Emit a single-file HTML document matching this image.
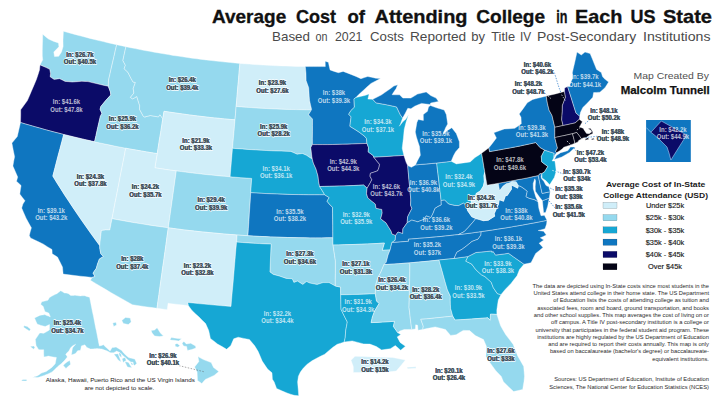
<!DOCTYPE html>
<html><head><meta charset="utf-8"><title>Average Cost of Attending College in Each US State</title>
<style>
html,body{margin:0;padding:0;background:#fff;}
body{width:720px;height:404px;overflow:hidden;position:relative;font-family:"Liberation Sans",sans-serif;}
svg{position:absolute;left:0;top:0;}
text{font-family:"Liberation Sans",sans-serif;}
</style></head><body>
<svg width="720" height="404" viewBox="0 0 720 404">
<rect width="720" height="404" fill="#ffffff"/>
<g stroke="#ffffff" stroke-opacity="0.65" stroke-width="0.6" stroke-linejoin="round">
<path d="M40.0,64.9 42.7,59.8 42.3,56.0 42.3,50.8 42.4,45.7 42.6,39.9 42.7,34.2 45.6,36.7 48.5,39.1 51.2,40.3 53.9,41.4 58.5,43.0 58.9,46.8 53.8,52.0 54.5,56.6 58.7,56.3 61.5,52.0 63.1,46.5 63.0,39.9 63.2,35.6 63.4,31.2 67.8,32.5 72.2,33.7 76.7,34.9 81.1,36.1 85.5,37.2 90.0,38.4 94.4,39.5 98.9,40.6 103.3,41.6 107.8,42.7 112.2,43.7 116.7,44.7 115.3,50.6 114.0,56.5 112.6,62.4 111.2,68.4 109.9,74.3 108.5,80.2 108.3,86.3 104.2,85.4 100.2,84.5 96.1,83.5 92.0,82.6 88.0,81.6 84.9,81.4 81.8,81.3 77.0,81.7 72.2,82.1 68.7,81.7 65.1,81.4 62.3,80.0 59.6,78.7 54.1,79.4 50.1,76.8 50.5,73.6 49.7,69.3 46.1,67.5 43.0,66.2Z" fill="#95d9ee"/>
<path d="M20.5,122.5 20.7,115.0 20.7,109.8 24.0,105.2 27.4,100.6 29.4,96.0 31.3,91.4 33.9,85.4 36.4,79.5 38.0,74.7 39.5,70.0 40.0,64.9 43.0,66.2 46.1,67.5 49.7,69.3 50.5,73.6 50.1,76.8 54.1,79.4 59.6,78.7 62.3,80.0 65.1,81.4 68.7,81.7 72.2,82.1 77.0,81.7 81.8,81.3 84.9,81.4 88.0,81.6 92.0,82.6 96.1,83.5 100.2,84.5 104.2,85.4 108.3,86.3 110.4,91.9 110.8,94.9 105.9,100.3 100.8,106.5 100.1,109.3 101.9,113.4 100.4,116.2 98.9,122.6 97.4,129.0 96.0,135.4 94.5,141.8 89.4,140.6 84.2,139.4 79.1,138.2 74.0,137.0 68.8,135.7 63.7,134.5 58.9,133.2 54.1,132.0 49.2,130.7 44.4,129.4 39.6,128.0 34.8,126.7 30.0,125.3 25.2,123.9Z" fill="#0b0b68"/>
<path d="M63.1,274.1 62.5,267.1 60.0,262.1 57.5,257.1 52.2,253.7 52.0,249.5 47.7,246.9 43.5,244.2 39.1,242.1 34.8,240.0 30.5,237.9 29.3,235.4 30.3,231.6 31.4,227.8 28.7,223.0 26.1,218.2 23.9,213.2 21.7,208.1 22.9,204.0 25.0,200.8 22.4,197.5 19.8,194.1 20.4,189.8 21.1,185.5 16.5,181.2 17.7,177.1 15.3,171.5 12.9,166.0 13.7,161.3 14.6,156.7 13.2,149.9 11.9,143.1 14.6,139.8 17.3,136.5 18.9,129.5 20.5,122.5 25.2,123.9 30.0,125.3 34.8,126.7 39.6,128.0 44.4,129.4 49.2,130.7 54.1,132.0 58.9,133.2 63.7,134.5 61.9,141.4 60.1,148.3 58.2,155.3 56.4,162.2 54.6,169.2 52.8,176.1 56.7,182.5 60.8,188.9 64.8,195.3 69.0,201.6 73.2,207.9 77.5,214.3 81.8,220.6 86.2,226.8 90.6,233.1 95.1,239.3 99.7,245.6 99.8,248.5 100.8,253.8 103.4,256.5 99.4,259.0 97.5,264.1 96.3,268.3 93.0,273.1 95.0,276.5 92.1,277.4 86.3,276.8 80.5,276.2 74.7,275.5 68.9,274.8Z" fill="#0f76c0"/>
<path d="M63.7,134.5 68.8,135.7 74.0,137.0 79.1,138.2 84.2,139.4 89.4,140.6 94.5,141.8 99.7,142.9 104.9,144.0 110.1,145.1 115.3,146.2 120.5,147.2 125.7,148.2 124.4,155.2 123.0,162.3 121.6,169.3 120.2,176.4 118.9,183.4 117.5,190.5 116.1,197.5 114.7,204.6 113.4,211.6 112.0,218.7 110.9,224.3 109.8,230.0 105.6,229.9 101.4,230.5 100.6,237.0 100.1,241.3 99.7,245.6 95.1,239.3 90.6,233.1 86.2,226.8 81.8,220.6 77.5,214.3 73.2,207.9 69.0,201.6 64.8,195.3 60.8,188.9 56.7,182.5 52.8,176.1 54.6,169.2 56.4,162.2 58.2,155.3 60.1,148.3 61.9,141.4Z" fill="#d0eef9"/>
<path d="M116.7,44.7 121.3,45.7 125.9,46.7 124.4,53.6 122.9,60.5 125.4,65.3 124.1,68.7 127.9,72.3 130.8,78.0 133.0,82.0 135.4,82.5 133.2,88.6 133.9,93.0 130.4,97.4 132.7,98.9 136.8,96.5 138.2,101.1 139.7,105.7 139.5,109.3 143.0,115.7 144.3,117.1 147.3,116.3 150.3,115.5 154.4,116.2 158.4,116.9 159.9,114.7 162.8,118.7 161.7,125.7 160.6,132.7 159.4,139.7 158.3,146.6 157.2,153.6 151.9,152.8 146.7,151.9 141.4,151.0 136.2,150.1 131.0,149.2 125.7,148.2 120.5,147.2 115.3,146.2 110.1,145.1 104.9,144.0 99.7,142.9 94.5,141.8 96.0,135.4 97.4,129.0 98.9,122.6 100.4,116.2 101.9,113.4 100.1,109.3 100.8,106.5 105.9,100.3 110.8,94.9 110.4,91.9 108.3,86.3 108.5,80.2 109.9,74.3 111.2,68.4 112.6,62.4 114.0,56.5 115.3,50.6Z" fill="#95d9ee"/>
<path d="M125.9,46.7 130.6,47.7 135.3,48.6 140.0,49.6 144.7,50.5 149.5,51.3 154.2,52.2 158.9,53.0 163.6,53.8 168.4,54.6 173.1,55.4 177.9,56.1 182.6,56.8 187.4,57.5 192.1,58.2 196.9,58.8 201.6,59.4 206.4,60.0 211.2,60.5 216.0,61.1 220.7,61.6 225.5,62.1 230.3,62.5 235.1,63.0 239.9,63.4 239.3,69.5 238.8,75.7 238.3,81.8 237.7,88.0 237.2,94.1 236.7,100.3 236.1,106.5 235.6,113.1 235.0,119.8 229.9,119.4 224.8,118.9 219.7,118.4 214.7,117.9 209.6,117.4 204.5,116.8 199.4,116.2 194.4,115.6 189.3,114.9 184.2,114.2 179.2,113.5 174.1,112.8 169.1,112.1 164.0,111.3 163.4,115.0 162.8,118.7 159.9,114.7 158.4,116.9 154.4,116.2 150.3,115.5 147.3,116.3 144.3,117.1 143.0,115.7 139.5,109.3 139.7,105.7 138.2,101.1 136.8,96.5 132.7,98.9 130.4,97.4 133.9,93.0 133.2,88.6 135.4,82.5 133.0,82.0 130.8,78.0 127.9,72.3 124.1,68.7 125.4,65.3 122.9,60.5 124.4,53.6Z" fill="#95d9ee"/>
<path d="M162.8,118.7 163.4,115.0 164.0,111.3 169.1,112.1 174.1,112.8 179.2,113.5 184.2,114.2 189.3,114.9 194.4,115.6 199.4,116.2 204.5,116.8 209.6,117.4 214.7,117.9 219.7,118.4 224.8,118.9 229.9,119.4 235.0,119.8 234.4,126.9 233.8,134.0 233.1,141.1 232.5,148.3 231.9,155.4 231.3,162.5 230.7,169.7 230.1,176.8 224.7,176.3 219.3,175.9 213.9,175.3 208.5,174.8 203.1,174.2 197.8,173.6 192.4,173.0 187.0,172.3 181.6,171.6 176.3,170.9 170.9,170.2 165.6,169.4 160.2,168.6 154.9,167.8 156.0,160.7 157.2,153.6 158.3,146.6 159.4,139.7 160.6,132.7 161.7,125.7Z" fill="#d0eef9"/>
<path d="M125.7,148.2 131.0,149.2 136.2,150.1 141.4,151.0 146.7,151.9 151.9,152.8 157.2,153.6 156.0,160.7 154.9,167.8 160.2,168.6 165.6,169.4 170.9,170.2 176.3,170.9 175.3,178.0 174.3,185.1 173.3,192.2 172.3,199.4 171.3,206.5 170.3,213.6 169.3,220.7 168.3,227.8 162.6,227.0 157.0,226.2 151.3,225.4 145.7,224.5 140.1,223.6 134.4,222.7 128.8,221.7 123.2,220.7 117.6,219.7 112.0,218.7 113.4,211.6 114.7,204.6 116.1,197.5 117.5,190.5 118.9,183.4 120.2,176.4 121.6,169.3 123.0,162.3 124.4,155.2Z" fill="#d0eef9"/>
<path d="M176.3,170.9 181.6,171.6 187.0,172.3 192.4,173.0 197.8,173.6 203.1,174.2 208.5,174.8 213.9,175.3 219.3,175.9 224.7,176.3 230.1,176.8 235.5,177.2 240.9,177.7 246.3,178.0 251.7,178.4 251.2,185.6 250.7,192.7 250.3,199.9 249.8,207.0 249.3,214.2 248.9,221.4 248.4,228.5 247.9,235.7 242.5,235.4 237.1,235.0 231.8,234.6 226.5,234.2 221.2,233.7 215.9,233.2 210.6,232.7 205.3,232.2 200.0,231.7 194.7,231.1 189.4,230.5 184.1,229.9 178.8,229.2 173.6,228.5 168.3,227.8 169.3,220.7 170.3,213.6 171.3,206.5 172.3,199.4 173.3,192.2 174.3,185.1 175.3,178.0Z" fill="#95d9ee"/>
<path d="M112.0,218.7 117.6,219.7 123.2,220.7 128.8,221.7 134.4,222.7 140.1,223.6 145.7,224.5 151.3,225.4 157.0,226.2 162.6,227.0 168.3,227.8 167.3,234.5 166.4,241.3 165.5,248.0 164.5,254.7 163.6,261.4 162.6,268.1 161.7,274.8 160.7,281.5 159.8,288.2 158.9,294.9 157.9,301.6 157.0,308.3 152.1,307.6 147.1,306.9 142.2,306.2 137.3,305.5 132.4,304.7 127.1,301.7 121.8,298.7 116.5,295.7 111.2,292.7 106.0,289.6 100.8,286.5 95.6,283.4 90.4,280.3 92.1,277.4 95.0,276.5 93.0,273.1 96.3,268.3 97.5,264.1 99.4,259.0 103.4,256.5 100.8,253.8 99.8,248.5 99.7,245.6 100.1,241.3 100.6,237.0 101.4,230.5 105.6,229.9 109.8,230.0 110.9,224.3Z" fill="#95d9ee"/>
<path d="M168.3,227.8 173.6,228.5 178.8,229.2 184.1,229.9 189.4,230.5 194.7,231.1 200.0,231.7 205.3,232.2 210.6,232.7 215.9,233.2 221.2,233.7 226.5,234.2 231.8,234.6 237.1,235.0 236.6,242.1 235.9,249.3 235.3,256.5 234.7,263.6 234.1,270.8 233.5,277.9 232.9,285.0 232.2,292.2 231.6,299.3 231.0,306.4 225.6,306.0 220.2,305.6 214.8,305.1 209.4,304.6 204.0,304.1 198.5,303.6 193.1,303.0 187.7,302.5 188.5,305.7 183.4,305.1 178.3,304.5 173.2,303.9 168.1,303.3 167.2,309.7 162.1,309.0 157.0,308.3 157.9,301.6 158.9,294.9 159.8,288.2 160.7,281.5 161.7,274.8 162.6,268.1 163.6,261.4 164.5,254.7 165.5,248.0 166.4,241.3 167.3,234.5Z" fill="#d0eef9"/>
<path d="M239.9,63.4 244.5,63.8 249.2,64.1 253.9,64.5 258.5,64.8 263.2,65.0 267.9,65.3 272.5,65.5 277.2,65.8 281.9,65.9 286.6,66.1 291.2,66.2 295.9,66.4 300.6,66.5 305.3,66.5 306.0,73.6 306.1,80.6 308.7,87.7 309.0,92.0 309.2,96.2 309.6,100.5 310.5,104.7 311.5,109.0 311.5,109.8 306.4,109.8 301.4,109.7 296.4,109.6 291.4,109.5 286.3,109.4 281.3,109.2 276.3,109.0 271.3,108.8 266.2,108.5 261.2,108.3 256.2,108.0 251.2,107.6 246.2,107.3 241.1,106.9 236.1,106.5 236.7,100.3 237.2,94.1 237.7,88.0 238.3,81.8 238.8,75.7 239.3,69.5Z" fill="#d0eef9"/>
<path d="M236.1,106.5 241.1,106.9 246.2,107.3 251.2,107.6 256.2,108.0 261.2,108.3 266.2,108.5 271.3,108.8 276.3,109.0 281.3,109.2 286.3,109.4 291.4,109.5 296.4,109.6 301.4,109.7 306.4,109.8 311.5,109.8 308.5,114.7 312.5,119.0 312.5,125.4 312.5,131.8 312.4,138.2 312.4,144.6 310.8,147.5 311.3,151.8 311.8,156.1 312.3,159.1 309.7,157.5 306.5,155.3 302.3,153.5 297.1,154.2 293.9,152.8 290.8,151.4 285.9,151.3 281.1,151.1 276.2,151.0 271.4,150.8 266.5,150.5 261.6,150.3 256.8,150.0 251.9,149.7 247.1,149.4 242.2,149.0 237.4,148.7 232.5,148.3 233.1,141.1 233.8,134.0 234.4,126.9 235.0,119.8 235.6,113.1Z" fill="#95d9ee"/>
<path d="M232.5,148.3 237.4,148.7 242.2,149.0 247.1,149.4 251.9,149.7 256.8,150.0 261.6,150.3 266.5,150.5 271.4,150.8 276.2,151.0 281.1,151.1 285.9,151.3 290.8,151.4 293.9,152.8 297.1,154.2 302.3,153.5 306.5,155.3 309.7,157.5 312.3,159.1 313.4,163.2 316.0,169.0 318.0,176.1 318.7,181.9 319.6,186.5 322.6,191.2 324.7,194.8 319.4,194.8 314.1,194.8 308.8,194.8 303.5,194.7 298.3,194.6 293.0,194.5 287.7,194.4 282.4,194.2 277.1,194.0 271.8,193.8 266.6,193.6 261.3,193.3 256.0,193.0 250.7,192.7 251.2,185.6 251.7,178.4 246.3,178.0 240.9,177.7 235.5,177.2 230.1,176.8 230.7,169.7 231.3,162.5 231.9,155.4Z" fill="#16a7d4"/>
<path d="M250.7,192.7 256.0,193.0 261.3,193.3 266.6,193.6 271.8,193.8 277.1,194.0 282.4,194.2 287.7,194.4 293.0,194.5 298.3,194.6 303.5,194.7 308.8,194.8 314.1,194.8 319.4,194.8 324.7,194.8 329.2,197.6 327.0,201.2 329.3,204.1 332.5,207.3 332.6,213.4 332.7,219.5 332.8,225.6 332.8,231.7 332.9,237.8 327.2,237.8 321.6,237.9 315.9,237.9 310.2,237.9 304.6,237.8 298.9,237.7 293.2,237.6 287.6,237.5 281.9,237.3 276.2,237.1 270.6,236.9 264.9,236.6 259.3,236.4 253.6,236.1 247.9,235.7 248.4,228.5 248.9,221.4 249.3,214.2 249.8,207.0 250.3,199.9Z" fill="#0f76c0"/>
<path d="M237.1,235.0 242.5,235.4 247.9,235.7 253.6,236.1 259.3,236.4 264.9,236.6 270.6,236.9 276.2,237.1 281.9,237.3 287.6,237.5 293.2,237.6 298.9,237.7 304.6,237.8 310.2,237.9 315.9,237.9 321.6,237.9 327.2,237.8 332.9,237.8 333.0,245.0 333.8,250.2 334.6,255.5 335.4,260.7 335.4,267.0 335.4,273.3 335.3,279.6 335.3,286.0 332.1,284.3 329.0,282.6 323.1,282.6 317.1,284.5 313.5,283.8 309.9,283.1 306.4,281.6 302.8,284.4 297.5,281.1 293.9,282.4 292.2,278.8 286.2,278.4 282.7,277.2 279.2,276.0 273.3,274.4 269.9,271.9 270.2,265.0 270.5,258.0 270.8,251.1 271.1,244.1 265.3,243.9 259.5,243.6 253.8,243.3 248.1,242.9 242.3,242.5 236.6,242.1Z" fill="#95d9ee"/>
<path d="M236.6,242.1 242.3,242.5 248.1,242.9 253.8,243.3 259.5,243.6 265.3,243.9 271.1,244.1 270.8,251.1 270.5,258.0 270.2,265.0 269.9,271.9 273.3,274.4 279.2,276.0 282.7,277.2 286.2,278.4 292.2,278.8 293.9,282.4 297.5,281.1 302.8,284.4 306.4,281.6 309.9,283.1 313.5,283.8 317.1,284.5 323.1,282.6 329.0,282.6 332.1,284.3 335.3,286.0 340.6,287.1 340.6,290.9 340.7,294.7 340.8,299.6 340.9,304.5 341.0,309.3 344.1,315.7 347.3,322.0 346.5,326.3 345.7,330.6 345.2,337.8 344.2,342.1 340.7,343.2 337.2,344.3 332.9,347.3 328.5,350.9 324.7,354.2 320.9,356.1 317.1,358.0 312.0,360.8 306.9,364.4 303.0,368.6 300.4,372.1 298.4,376.3 297.6,381.9 298.2,389.0 298.7,395.8 294.1,395.3 290.5,394.2 287.0,393.0 281.8,390.8 276.6,388.5 274.2,382.1 272.4,379.2 272.0,372.8 267.6,369.1 264.9,365.1 262.2,361.1 260.2,356.3 258.2,351.6 254.7,345.8 249.4,339.5 243.8,338.4 238.2,337.2 233.7,338.8 230.7,345.7 226.6,349.3 222.1,346.6 217.5,344.0 214.0,341.2 210.4,338.4 209.6,334.4 208.7,330.4 205.6,323.6 202.2,320.2 198.8,316.8 195.4,313.7 192.0,310.5 188.5,305.7 187.7,302.5 193.1,303.0 198.5,303.6 204.0,304.1 209.4,304.6 214.8,305.1 220.2,305.6 225.6,306.0 231.0,306.4 231.6,299.3 232.2,292.2 232.9,285.0 233.5,277.9 234.1,270.8 234.7,263.6 235.3,256.5 235.9,249.3Z" fill="#16a7d4"/>
<path d="M305.3,66.5 309.3,66.6 313.3,66.6 317.3,66.6 321.3,66.6 325.3,66.6 325.2,61.2 328.4,62.3 329.2,66.2 330.1,70.0 334.2,71.4 338.4,72.7 343.2,71.4 347.1,72.9 351.0,74.4 356.0,76.4 360.9,78.7 364.3,77.6 367.7,76.5 371.6,77.3 375.6,78.2 380.5,78.6 375.7,81.0 371.0,83.4 367.2,86.8 363.5,90.2 358.7,94.6 355.9,97.6 354.0,98.9 354.2,103.0 354.4,107.2 350.9,110.6 348.7,114.2 351.1,116.9 350.3,122.7 349.9,126.3 355.2,129.6 359.4,132.3 364.8,136.4 366.4,138.4 367.0,143.4 362.0,143.6 357.1,143.8 352.1,144.0 347.1,144.2 342.2,144.3 337.2,144.4 332.3,144.5 327.3,144.6 322.3,144.6 317.4,144.6 312.4,144.6 312.4,138.2 312.5,131.8 312.5,125.4 312.5,119.0 308.5,114.7 311.5,109.8 311.5,109.0 310.5,104.7 309.6,100.5 309.2,96.2 309.0,92.0 308.7,87.7 306.1,80.6 306.0,73.6Z" fill="#0f76c0"/>
<path d="M312.4,144.6 317.4,144.6 322.3,144.6 327.3,144.6 332.3,144.5 337.2,144.4 342.2,144.3 347.1,144.2 352.1,144.0 357.1,143.8 362.0,143.6 367.0,143.4 368.5,147.6 368.2,151.9 373.1,155.5 373.8,157.2 376.6,160.8 379.5,164.2 379.1,167.1 377.7,170.8 374.1,172.1 370.4,173.3 370.0,176.2 371.8,179.7 370.3,182.7 367.1,188.2 363.6,185.0 358.7,185.3 353.8,185.5 348.9,185.7 344.0,185.9 339.2,186.0 334.3,186.2 329.4,186.3 324.5,186.4 319.6,186.5 318.7,181.9 318.0,176.1 316.0,169.0 313.4,163.2 312.3,159.1 311.8,156.1 311.3,151.8 310.8,147.5Z" fill="#0b0b68"/>
<path d="M319.6,186.5 324.5,186.4 329.4,186.3 334.3,186.2 339.2,186.0 344.0,185.9 348.9,185.7 353.8,185.5 358.7,185.3 363.6,185.0 367.1,188.2 366.5,193.6 367.8,197.9 371.5,200.9 375.3,204.0 376.1,208.3 381.8,209.4 382.2,212.9 380.7,218.8 386.0,222.8 388.5,226.9 391.1,231.1 391.9,233.9 395.6,235.4 395.2,240.2 391.9,242.5 391.0,246.2 390.1,249.9 386.1,250.1 382.2,250.3 384.4,243.0 378.7,243.4 373.0,243.7 367.3,243.9 361.6,244.2 355.9,244.4 350.1,244.6 344.4,244.7 338.7,244.9 333.0,245.0 332.9,237.8 332.8,231.7 332.8,225.6 332.7,219.5 332.6,213.4 332.5,207.3 329.3,204.1 327.0,201.2 329.2,197.6 324.7,194.8 322.6,191.2Z" fill="#16a7d4"/>
<path d="M333.0,245.0 338.7,244.9 344.4,244.7 350.1,244.6 355.9,244.4 361.6,244.2 367.3,243.9 373.0,243.7 378.7,243.4 384.4,243.0 382.2,250.3 386.1,250.1 390.1,249.9 388.1,255.0 386.2,262.3 384.0,264.6 380.9,272.0 377.7,277.9 375.7,285.2 375.5,289.5 375.3,293.8 369.5,294.0 363.8,294.2 358.0,294.4 352.2,294.5 346.5,294.7 340.7,294.7 340.6,290.9 340.6,287.1 335.3,286.0 335.3,279.6 335.4,273.3 335.4,267.0 335.4,260.7 334.6,255.5 333.8,250.2Z" fill="#95d9ee"/>
<path d="M340.7,294.7 346.5,294.7 352.2,294.5 358.0,294.4 363.8,294.2 369.5,294.0 375.3,293.8 376.5,300.9 379.1,303.6 374.6,311.0 372.4,316.9 371.1,322.6 377.0,322.4 382.8,322.0 388.7,321.7 394.5,321.3 393.4,326.4 397.8,332.8 400.8,334.5 397.2,336.9 400.1,342.4 405.4,346.3 400.7,350.2 395.3,345.6 390.4,348.7 386.0,349.3 381.6,349.9 376.4,346.6 369.9,344.1 363.6,343.9 357.9,342.4 352.2,340.9 348.2,341.5 344.2,342.1 345.2,337.8 345.7,330.6 346.5,326.3 347.3,322.0 344.1,315.7 341.0,309.3 340.9,304.5 340.8,299.6Z" fill="#16a7d4"/>
<path d="M355.9,97.6 360.3,96.5 364.7,95.5 369.1,94.1 367.9,99.1 372.7,99.3 376.1,102.9 381.2,103.8 386.3,104.7 391.4,105.8 396.6,106.9 398.4,110.8 400.3,114.7 402.6,118.1 400.2,124.7 399.3,126.2 403.0,121.6 405.8,119.2 408.5,114.7 406.1,122.1 404.2,129.4 403.8,133.7 403.4,138.1 402.8,143.1 402.2,148.2 403.0,151.8 403.9,155.4 398.9,155.8 393.9,156.1 388.9,156.4 383.9,156.7 378.9,157.0 373.8,157.2 373.1,155.5 368.2,151.9 368.5,147.6 367.0,143.4 366.4,138.4 364.8,136.4 359.4,132.3 355.2,129.6 349.9,126.3 350.3,122.7 351.1,116.9 348.7,114.2 350.9,110.6 354.4,107.2 354.2,103.0 354.0,98.9Z" fill="#16a7d4"/>
<path d="M373.8,157.2 378.9,157.0 383.9,156.7 388.9,156.4 393.9,156.1 398.9,155.8 403.9,155.4 406.1,162.3 407.7,165.6 408.3,172.5 408.9,179.3 409.6,186.2 410.2,193.1 410.8,200.0 410.5,205.1 411.9,208.6 409.5,213.1 407.6,216.9 407.2,222.7 402.9,228.8 402.7,233.6 398.0,232.0 395.6,235.4 391.9,233.9 391.1,231.1 388.5,226.9 386.0,222.8 380.7,218.8 382.2,212.9 381.8,209.4 376.1,208.3 375.3,204.0 371.5,200.9 367.8,197.9 366.5,193.6 367.1,188.2 370.3,182.7 371.8,179.7 370.0,176.2 370.4,173.3 374.1,172.1 377.7,170.8 379.1,167.1 379.5,164.2 376.6,160.8Z" fill="#0b0b68"/>
<path d="M407.7,165.6 411.4,167.3 415.5,164.9 420.8,164.4 426.1,164.0 431.4,163.5 436.7,163.0 437.4,169.3 438.2,175.5 438.9,181.8 439.6,188.0 440.4,194.3 441.1,200.5 441.3,204.9 437.6,206.7 434.9,208.5 433.2,213.0 430.9,217.6 426.2,215.9 424.2,219.3 421.0,220.5 417.7,221.8 411.8,220.1 407.2,222.7 407.6,216.9 409.5,213.1 411.9,208.6 410.5,205.1 410.8,200.0 410.2,193.1 409.6,186.2 408.9,179.3 408.3,172.5Z" fill="#0f76c0"/>
<path d="M436.7,163.0 441.5,162.5 446.3,161.9 451.2,161.3 456.4,163.9 459.6,163.4 463.3,162.9 467.0,162.4 470.2,161.9 475.0,157.6 478.3,155.4 481.6,153.2 482.7,159.5 483.7,165.8 484.8,172.1 483.9,175.8 484.3,181.5 483.4,186.0 480.3,190.9 476.2,193.4 475.1,197.5 471.4,198.8 471.0,203.9 467.1,207.1 463.6,203.0 458.8,205.6 454.3,205.4 448.5,204.0 444.6,200.1 441.1,200.5 440.4,194.3 439.6,188.0 438.9,181.8 438.2,175.5 437.4,169.3Z" fill="#16a7d4"/>
<path d="M407.2,222.7 411.8,220.1 417.7,221.8 421.0,220.5 424.2,219.3 426.2,215.9 430.9,217.6 433.2,213.0 434.9,208.5 437.6,206.7 441.3,204.9 441.1,200.5 444.6,200.1 448.5,204.0 454.3,205.4 458.8,205.6 463.6,203.0 467.1,207.1 467.5,210.6 471.8,216.8 475.8,218.6 472.6,222.5 468.2,227.5 464.1,231.7 461.3,233.1 458.4,234.6 452.8,235.2 447.3,235.8 441.7,236.4 436.2,236.9 430.6,237.4 425.1,237.9 419.5,238.3 413.9,238.8 408.4,239.2 408.5,241.3 403.0,241.7 397.4,242.2 391.9,242.5 395.2,240.2 395.6,235.4 398.0,232.0 402.7,233.6 402.9,228.8Z" fill="#0f76c0"/>
<path d="M391.9,242.5 397.4,242.2 403.0,241.7 408.5,241.3 408.4,239.2 413.9,238.8 419.5,238.3 425.1,237.9 430.6,237.4 436.2,236.9 441.7,236.4 447.3,235.8 452.8,235.2 458.4,234.6 464.1,233.9 469.8,233.2 475.5,232.4 481.2,231.6 480.9,235.1 478.0,239.2 475.0,240.3 471.9,241.5 466.7,245.8 462.4,249.0 456.9,252.2 454.0,258.5 449.0,259.0 444.0,259.5 439.0,260.0 434.0,260.6 428.9,261.1 423.8,261.6 418.8,262.0 413.7,262.5 408.6,262.9 403.7,263.3 398.8,263.7 393.9,264.0 388.9,264.3 384.0,264.6 386.2,262.3 388.1,255.0 390.1,249.9 391.0,246.2Z" fill="#0f76c0"/>
<path d="M384.0,264.6 388.9,264.3 393.9,264.0 398.8,263.7 403.7,263.3 408.6,262.9 409.9,264.2 409.8,271.4 409.7,278.6 409.5,285.8 409.4,293.0 409.2,300.2 409.0,307.4 409.7,312.9 410.3,318.4 411.0,323.9 411.7,329.4 407.9,329.5 404.2,329.5 399.9,331.0 397.8,332.8 393.4,326.4 394.5,321.3 388.7,321.7 382.8,322.0 377.0,322.4 371.1,322.6 372.4,316.9 374.6,311.0 379.1,303.6 376.5,300.9 375.3,293.8 375.5,289.5 375.7,285.2 377.7,277.9 380.9,272.0Z" fill="#95d9ee"/>
<path d="M408.6,262.9 413.7,262.5 418.8,262.0 423.8,261.6 428.9,261.1 434.0,260.6 439.0,260.0 440.7,266.0 442.4,272.0 444.0,277.9 445.7,283.9 447.4,289.8 450.4,296.3 450.3,300.6 450.4,304.5 450.6,308.5 451.7,312.3 452.7,316.1 447.4,316.7 442.1,317.3 436.8,317.8 431.4,318.4 426.1,318.9 420.8,319.3 423.3,326.3 422.7,329.5 418.0,330.3 417.6,325.3 415.7,324.8 415.4,329.1 411.7,329.4 411.0,323.9 410.3,318.4 409.7,312.9 409.0,307.4 409.2,300.2 409.4,293.0 409.5,285.8 409.7,278.6 409.8,271.4 409.9,264.2Z" fill="#95d9ee"/>
<path d="M439.0,260.0 444.0,259.5 449.0,259.0 454.0,258.5 458.7,257.8 463.4,257.2 468.0,256.5 465.8,261.2 471.6,264.0 476.0,269.9 481.6,274.9 484.9,276.6 491.2,282.2 493.3,287.7 497.3,293.6 500.9,294.7 498.3,299.9 497.4,305.8 496.8,310.2 496.9,314.4 490.5,314.1 490.3,317.0 490.2,320.3 487.9,317.8 482.4,318.2 476.9,318.6 471.4,319.0 465.9,319.4 460.4,319.7 454.9,320.0 452.7,316.1 451.7,312.3 450.6,308.5 450.4,304.5 450.3,300.6 450.4,296.3 447.4,289.8 445.7,283.9 444.0,277.9 442.4,272.0 440.7,266.0Z" fill="#16a7d4"/>
<path d="M452.7,316.1 454.9,320.0 460.4,319.7 465.9,319.4 471.4,319.0 476.9,318.6 482.4,318.2 487.9,317.8 490.2,320.3 490.3,317.0 490.5,314.1 496.9,314.4 498.7,320.0 500.5,325.6 503.1,330.2 505.8,334.8 509.5,339.6 513.2,344.4 515.4,350.2 517.7,355.9 520.7,361.2 523.7,366.4 524.1,371.3 524.5,376.3 524.0,381.4 523.3,385.4 522.7,389.4 518.2,390.5 513.6,391.6 508.5,386.7 503.4,381.7 501.3,376.4 495.8,370.7 492.5,366.2 489.3,361.7 485.9,356.4 486.2,351.3 486.4,346.3 483.5,339.5 479.4,337.6 475.3,335.6 469.6,330.6 463.2,330.4 459.7,332.5 456.2,334.7 450.6,335.4 445.5,329.5 440.4,328.2 435.2,326.9 431.0,327.8 426.9,328.6 422.7,329.5 423.3,326.3 420.8,319.3 426.1,318.9 431.4,318.4 436.8,317.8 442.1,317.3 447.4,316.7Z" fill="#95d9ee"/>
<path d="M468.0,256.5 472.0,254.5 475.9,252.5 481.1,252.0 486.4,251.5 491.6,250.9 491.9,252.3 493.1,251.4 495.5,255.1 499.8,254.5 504.2,253.9 508.5,253.3 513.6,256.9 518.8,260.6 524.0,264.2 519.5,269.5 517.0,275.8 514.0,279.6 511.0,283.4 508.1,286.4 505.2,289.4 500.9,294.7 497.3,293.6 493.3,287.7 491.2,282.2 484.9,276.6 481.6,274.9 476.0,269.9 471.6,264.0 465.8,261.2Z" fill="#16a7d4"/>
<path d="M454.0,258.5 456.9,252.2 462.4,249.0 466.7,245.8 471.9,241.5 475.0,240.3 478.0,239.2 480.9,235.1 481.2,231.6 486.7,230.8 492.2,230.0 497.7,229.1 503.2,228.3 508.7,227.4 514.2,226.4 519.7,225.5 525.2,224.5 530.6,223.5 536.1,222.5 541.6,221.4 547.0,220.3 546.6,224.1 545.0,228.8 541.6,229.7 538.2,230.5 543.7,231.3 546.3,235.1 543.3,236.5 540.3,237.8 543.8,240.1 539.1,243.2 543.0,247.5 539.4,250.5 535.7,253.4 533.4,258.1 531.0,262.8 527.5,263.5 524.0,264.2 518.8,260.6 513.6,256.9 508.5,253.3 504.2,253.9 499.8,254.5 495.5,255.1 493.1,251.4 491.9,252.3 491.6,250.9 486.4,251.5 481.1,252.0 475.9,252.5 472.0,254.5 468.0,256.5 463.4,257.2 458.7,257.8Z" fill="#0f76c0"/>
<path d="M458.4,234.6 461.3,233.1 464.1,231.7 468.2,227.5 472.6,222.5 475.8,218.6 479.6,219.6 483.3,220.7 488.4,220.2 491.5,218.2 494.7,216.2 494.2,213.7 496.3,209.0 498.4,204.4 499.3,199.7 503.5,201.3 505.4,195.8 507.3,195.4 511.5,189.2 511.2,184.9 514.5,186.6 517.7,188.2 518.4,185.5 521.2,186.7 524.5,189.0 527.3,191.3 526.0,196.7 529.2,198.3 534.1,199.5 538.0,201.6 538.8,208.1 539.9,211.9 541.0,215.7 544.4,215.3 547.0,220.3 541.6,221.4 536.1,222.5 530.6,223.5 525.2,224.5 519.7,225.5 514.2,226.4 508.7,227.4 503.2,228.3 497.7,229.1 492.2,230.0 486.7,230.8 481.2,231.6 475.5,232.4 469.8,233.2 464.1,233.9ZM543.6,212.7 543.0,206.7 542.4,200.7 545.9,199.4 549.3,198.1 548.5,202.1 547.7,206.2 545.6,212.5Z" fill="#0f76c0"/>
<path d="M467.1,207.1 471.0,203.9 471.4,198.8 475.1,197.5 476.2,193.4 480.3,190.9 483.4,186.0 484.3,181.5 483.9,175.8 484.8,172.1 485.9,178.7 487.0,185.2 490.7,184.6 494.5,183.9 498.3,183.3 498.9,187.0 499.6,190.6 503.0,186.1 506.5,183.6 510.2,182.6 512.2,181.2 516.2,181.8 518.4,185.5 517.7,188.2 514.5,186.6 511.2,184.9 511.5,189.2 507.3,195.4 505.4,195.8 503.5,201.3 499.3,199.7 498.4,204.4 496.3,209.0 494.2,213.7 494.7,216.2 491.5,218.2 488.4,220.2 483.3,220.7 479.6,219.6 475.8,218.6 471.8,216.8 467.5,210.6Z" fill="#d0eef9"/>
<path d="M498.3,183.3 503.3,182.4 508.3,181.5 513.3,180.6 518.2,179.6 523.2,178.7 528.2,177.7 533.2,176.6 538.2,175.6 539.5,181.5 540.8,187.5 542.1,193.4 546.1,192.6 550.2,191.7 549.3,198.1 545.9,199.4 542.4,200.7 538.9,196.3 535.4,191.2 535.2,186.8 535.6,180.8 534.8,178.8 533.2,183.5 533.3,188.7 534.5,192.8 535.8,196.9 538.0,201.6 534.1,199.5 529.2,198.3 526.0,196.7 527.3,191.3 524.5,189.0 521.2,186.7 518.4,185.5 516.2,181.8 512.2,181.2 510.2,182.6 506.5,183.6 503.0,186.1 499.6,190.6 498.9,187.0Z" fill="#0f76c0"/>
<path d="M538.2,175.6 539.9,173.6 541.9,173.6 541.1,176.7 541.6,178.8 543.8,181.3 545.9,185.3 548.8,187.1 550.2,191.7 546.1,192.6 542.1,193.4 540.8,187.5 539.5,181.5Z" fill="#0f76c0"/>
<path d="M481.6,153.2 485.3,150.5 488.9,147.8 489.6,151.6 494.7,150.7 499.9,149.8 505.0,148.8 510.1,147.9 515.3,146.9 520.4,145.9 525.5,144.8 530.6,143.7 535.7,142.6 540.1,147.6 544.6,150.1 541.3,156.4 541.7,161.9 547.8,166.4 544.5,171.9 541.9,173.6 539.9,173.6 538.2,175.6 533.2,176.6 528.2,177.7 523.2,178.7 518.2,179.6 513.3,180.6 508.3,181.5 503.3,182.4 498.3,183.3 494.5,183.9 490.7,184.6 487.0,185.2 485.9,178.7 484.8,172.1 483.7,165.8 482.7,159.5Z" fill="#040416"/>
<path d="M541.9,173.6 544.5,171.9 547.8,166.4 541.7,161.9 541.3,156.4 544.6,150.1 549.4,151.7 554.2,153.2 553.9,157.7 552.1,161.0 554.9,160.9 555.6,166.0 556.2,171.2 554.3,177.5 552.0,181.1 549.7,184.7 546.0,180.8 542.0,178.0Z" fill="#16a7d4"/>
<path d="M488.9,147.8 492.7,142.9 496.4,138.0 493.8,132.7 497.3,131.5 500.8,130.2 504.3,129.0 509.5,128.7 514.8,128.3 518.1,126.0 521.3,123.7 521.0,117.2 519.2,114.0 523.3,108.4 527.3,102.8 530.1,101.1 532.8,99.4 537.3,98.3 541.7,97.2 546.2,96.1 546.8,99.7 547.4,103.3 549.1,110.2 552.0,115.4 553.4,121.3 554.8,127.3 554.8,132.4 554.8,137.6 556.1,142.8 557.5,148.0 555.6,151.4 556.7,152.6 554.7,155.3 553.9,157.7 554.2,153.2 549.4,151.7 544.6,150.1 540.1,147.6 535.7,142.6 530.6,143.7 525.5,144.8 520.4,145.9 515.3,146.9 510.1,147.9 505.0,148.8 499.9,149.8 494.7,150.7 489.6,151.6ZM554.3,159.4 558.1,158.2 561.8,157.0 565.7,154.7 569.6,152.4 572.5,149.7 575.3,147.0 570.4,147.1 568.0,150.6 564.4,151.7 560.7,152.7 556.4,155.6Z" fill="#0f76c0"/>
<path d="M546.2,96.1 550.8,95.0 555.4,93.9 559.9,92.7 564.5,91.5 565.5,97.3 562.4,105.5 562.3,111.4 562.0,115.5 561.7,119.7 563.1,125.5 558.9,126.4 554.8,127.3 553.4,121.3 552.0,115.4 549.1,110.2 547.4,103.3 546.8,99.7Z" fill="#040416"/>
<path d="M564.5,91.5 564.6,88.0 567.6,86.5 569.7,93.1 571.8,99.7 573.9,106.4 576.0,113.1 579.8,116.2 579.3,119.3 575.1,122.9 571.1,123.8 567.1,124.7 563.1,125.5 561.7,119.7 562.0,115.5 562.3,111.4 562.4,105.5 565.5,97.3Z" fill="#0b0b68"/>
<path d="M567.6,86.5 570.0,86.6 569.9,84.4 572.5,78.5 572.4,72.6 573.3,68.4 574.6,63.0 575.8,57.5 577.0,52.1 581.3,55.0 585.0,52.1 590.1,53.6 592.3,58.8 594.4,64.1 596.6,69.4 601.3,72.5 602.5,76.5 604.2,78.6 608.6,82.1 605.0,87.7 602.4,90.0 599.9,92.2 596.7,92.4 593.6,92.6 592.8,97.3 589.5,100.8 586.2,104.3 582.8,107.5 580.4,112.6 579.8,116.2 576.0,113.1 573.9,106.4 571.8,99.7 569.7,93.1Z" fill="#0f76c0"/>
<path d="M554.8,127.3 558.9,126.4 563.1,125.5 567.1,124.7 571.1,123.8 575.1,122.9 579.3,119.3 582.4,121.7 579.5,126.9 583.1,128.2 585.1,131.4 586.6,133.5 589.1,133.7 591.7,132.0 590.6,129.9 588.9,129.2 588.3,128.6 590.4,128.3 592.6,131.6 592.9,133.4 589.5,135.1 586.3,137.5 583.0,137.9 581.5,139.0 580.0,136.8 576.8,132.5 572.5,133.7 568.1,134.7 563.6,135.7 559.2,136.6 554.8,137.6 554.8,132.4ZM585.0,140.3 589.0,139.3 588.0,137.7 585.5,138.7ZM591.5,140.1 594.4,139.3 593.7,138.3 591.7,138.8Z" fill="#040416"/>
<path d="M554.8,137.6 559.2,136.6 563.6,135.7 568.1,134.7 572.5,133.7 573.6,137.8 574.7,142.0 574.4,143.5 570.0,145.2 566.9,146.2 563.8,147.2 562.1,149.1 559.4,150.9 556.7,152.6 555.6,151.4 557.5,148.0 556.1,142.8Z" fill="#040416"/>
<path d="M572.5,133.7 576.8,132.5 580.0,136.8 581.5,139.0 578.7,140.5 578.0,141.9 574.4,143.5 574.7,142.0 573.6,137.8Z" fill="#040416"/>
<path d="M402.6,118.1 400.3,114.7 398.4,110.8 396.6,106.9 391.4,105.8 386.3,104.7 381.2,103.8 376.1,102.9 372.7,99.3 377.2,97.1 381.6,94.8 384.4,92.8 387.3,90.8 390.6,88.5 393.8,86.1 397.7,84.8 396.0,88.7 393.4,92.5 392.1,94.7 395.8,94.8 399.6,94.8 402.8,98.1 406.9,98.1 410.9,98.1 414.2,96.1 417.5,94.1 421.9,93.0 426.2,91.9 430.7,95.6 436.1,98.1 438.5,101.4 434.6,102.2 430.6,103.1 430.3,104.5 425.9,104.0 421.5,103.4 418.1,104.8 414.7,106.2 410.9,108.8 407.8,108.3 405.3,113.2ZM415.5,164.9 417.2,161.2 420.4,155.2 419.9,150.9 419.5,146.6 417.9,141.7 416.4,136.9 415.3,131.9 416.1,127.2 416.9,122.5 418.2,119.5 423.4,120.4 423.3,114.6 427.5,111.3 428.5,106.9 430.4,105.5 433.8,106.8 437.3,108.0 440.8,109.0 444.2,110.0 446.4,114.7 447.0,119.3 447.7,123.9 445.6,127.8 442.8,134.6 447.5,130.4 451.8,127.7 456.3,133.5 457.9,137.7 459.4,141.8 459.4,147.6 455.7,151.7 453.6,155.6 451.2,161.3 446.3,161.9 441.5,162.5 436.7,163.0 431.4,163.5 426.1,164.0 420.8,164.4Z" fill="#0f76c0"/>
<path d="M89.6,297.2 88.6,297.0 87.6,296.7 86.6,296.4 85.6,296.1 84.6,295.7 83.7,295.8 82.7,295.8 81.8,295.8 80.9,295.9 80.0,295.9 79.0,295.8 78.1,295.7 77.2,295.6 76.2,295.4 75.3,295.3 74.4,295.3 73.5,295.4 72.6,295.4 71.7,295.4 70.7,295.4 69.8,294.7 68.9,294.0 68.0,293.4 67.1,293.3 66.2,293.1 65.3,293.0 64.4,292.9 63.7,292.5 62.9,292.0 62.2,291.6 61.5,291.2 60.7,290.7 59.9,291.4 59.0,292.1 58.1,292.7 57.2,293.4 56.3,293.9 55.4,294.3 54.4,294.8 53.5,295.2 52.5,295.8 51.5,296.3 50.5,296.9 49.5,297.4 48.7,298.9 47.8,300.3 46.8,300.6 45.8,300.8 44.8,301.0 43.8,301.3 42.8,301.5 41.7,301.7 41.2,303.0 40.7,304.3 41.5,305.0 42.4,305.8 43.3,306.6 43.8,308.3 44.4,310.0 45.0,311.7 45.9,312.0 46.9,312.3 47.9,312.7 48.8,313.0 49.6,314.9 50.3,316.9 49.4,316.5 48.5,316.1 47.5,315.8 46.6,315.4 45.7,315.0 44.8,314.6 43.8,314.8 42.7,314.9 41.7,315.1 40.7,315.2 39.7,315.4 38.7,315.9 37.6,316.4 36.6,316.9 35.6,317.4 34.5,317.9 35.2,319.4 35.8,321.0 36.5,322.6 37.2,324.1 38.2,324.5 39.2,324.8 40.2,325.2 41.2,325.5 42.2,325.7 43.2,326.0 44.2,326.2 45.2,326.5 46.3,326.0 47.4,325.5 48.4,325.0 49.5,324.6 49.5,327.2 49.4,329.9 48.2,330.7 46.9,331.5 45.9,332.1 44.8,332.7 43.8,333.3 42.8,333.2 41.7,333.1 40.7,333.0 39.7,332.9 38.3,335.1 36.8,337.3 35.3,339.5 35.6,341.5 35.8,343.6 36.1,345.6 37.0,347.0 37.9,348.4 38.9,349.8 40.1,349.8 41.3,349.8 42.5,349.7 43.7,349.7 43.7,351.9 43.7,354.0 43.8,355.5 43.9,357.0 45.4,356.7 46.8,356.4 48.2,356.1 49.4,356.3 50.6,356.6 51.8,356.8 53.1,357.0 54.2,357.2 55.3,357.3 56.4,357.5 56.0,359.6 55.6,361.7 55.2,363.8 54.1,365.0 53.0,366.2 51.8,367.4 50.4,368.4 49.0,369.4 47.6,370.4 46.2,371.5 44.6,372.0 43.0,372.6 41.5,373.1 40.1,374.0 38.8,374.9 37.5,375.8 36.2,376.2 34.9,376.5 33.6,376.9 32.3,377.2 33.7,377.3 35.1,377.3 36.5,377.4 37.9,377.5 39.5,377.0 41.1,376.4 42.7,375.9 44.3,375.4 45.8,374.8 47.4,374.2 49.0,373.5 50.5,372.7 52.1,371.9 53.4,370.7 54.8,369.4 56.1,368.1 57.4,366.9 58.6,365.8 59.9,364.8 61.2,363.8 62.4,362.6 63.7,361.3 64.9,360.1 66.1,358.5 67.4,356.9 66.5,355.5 65.7,354.2 66.8,353.1 67.8,352.0 68.9,350.9 69.8,349.3 70.6,347.7 71.9,346.6 73.1,345.5 74.4,344.9 75.6,344.2 74.6,345.5 73.5,346.7 72.5,347.9 72.1,350.2 71.8,352.6 71.4,354.9 72.7,354.5 74.1,354.1 75.4,353.6 76.5,352.2 77.6,350.8 78.6,350.6 79.6,350.5 80.5,350.3 81.0,348.1 81.4,345.9 82.5,345.6 83.6,345.2 84.7,344.8 85.8,346.1 86.8,347.5 88.1,348.0 89.3,348.6 90.5,349.1 91.9,349.0 93.2,348.9 94.5,348.8 95.8,348.7 97.2,348.6 98.3,348.7 99.5,348.8 100.7,348.9 101.9,349.0 103.2,349.5 104.6,350.1 106.0,350.6 107.3,351.1 109.0,351.9 110.6,352.7 111.6,352.7 112.7,352.7 113.7,352.7 114.6,352.2 115.6,351.7 116.5,351.1 118.1,351.8 119.7,352.4 121.4,354.1 123.2,355.8 125.3,357.6 127.4,359.4 129.1,360.8 130.9,362.2 132.7,363.8 134.6,365.4 135.7,364.4 136.8,363.4 135.8,361.2 134.8,359.0 133.3,358.7 131.7,358.3 130.2,358.0 128.7,357.6 127.0,356.2 125.4,354.7 123.9,353.3 122.8,351.9 121.8,350.6 120.4,349.7 118.9,348.8 117.5,347.9 116.1,347.0 114.8,347.3 113.4,347.5 112.1,347.6 111.1,349.3 110.1,350.9 108.7,349.7 107.3,348.5 105.9,347.2 104.5,346.0 103.9,344.7 102.8,345.0 101.7,345.4 100.5,345.7 99.4,346.0 98.8,343.4 98.3,340.8 97.8,338.2 97.3,335.7 96.8,333.1 96.3,330.5 95.7,327.9 95.2,325.4 94.7,322.8 94.2,320.2 93.7,317.6 93.2,315.1 92.6,312.5 92.1,310.0 91.6,307.4 91.1,304.9 90.6,302.3 90.1,299.8ZM113.9,354.3 115.3,354.1 116.7,353.9 118.1,353.7 118.8,355.8 119.6,357.8 120.4,359.9 121.2,362.0 119.6,361.0 118.2,360.1 117.1,358.4 116.0,356.8 115.0,355.6ZM118.9,352.4 119.9,353.0 121.0,353.7 121.3,355.6 121.7,357.6 120.5,356.7 119.3,355.8 119.1,354.1ZM122.0,358.7 123.1,358.2 124.1,357.8 125.2,357.4 125.7,358.9 126.2,360.4 125.2,361.1 124.2,361.8 123.2,362.5 122.6,360.6ZM124.7,361.4 125.9,361.8 127.2,362.1 128.5,362.5 129.6,364.2 130.7,366.0 131.9,367.8 130.4,367.5 128.9,367.3 127.4,367.0 126.5,365.2 125.6,363.3ZM130.5,362.0 131.8,362.1 133.1,362.2 133.4,364.7 132.4,364.7 131.5,364.8 131.0,363.4ZM63.2,365.4 64.6,366.9 66.0,368.4 67.2,367.3 68.3,366.3 69.5,365.3 70.6,364.3 70.2,362.4 69.9,360.5 68.7,361.1 67.4,361.7 66.4,362.5 65.4,363.3 64.3,364.3ZM30.3,346.4 31.4,347.4 32.5,348.3 33.6,349.2 35.0,347.3 34.3,346.7 33.6,346.0 32.5,346.2 31.4,346.3ZM23.7,327.3 24.7,328.0 25.6,328.6 26.6,329.2 27.6,329.8 28.5,330.4 29.5,331.0 30.6,329.3 29.8,328.6 29.0,328.0 28.2,327.3 27.4,326.6 26.2,326.2 25.1,325.9 24.0,325.5ZM21.4,380.8 22.8,380.9 24.1,381.0 25.5,381.0 26.9,381.1 26.5,379.4 25.1,379.5 23.7,379.6 22.3,379.7Z" fill="#95d9ee"/>
<path d="M112.7,323.0 116.0,322.2 116.6,325.0 113.7,326.4ZM121.8,320.6 125.4,317.4 130.2,318.0 131.2,322.0 128.3,324.6 123.4,323.4ZM151.1,330.6 154.6,330.0 157.1,327.8 160.4,333.0 163.4,336.0 159.5,336.6 154.6,336.0 152.1,333.0ZM170.0,340.0 171.2,337.6 178.0,338.6 181.7,338.8 178.6,341.0 174.1,340.2ZM174.9,344.4 177.0,343.4 179.9,345.6 178.0,347.2 175.5,346.4ZM182.1,343.2 183.9,341.4 186.4,344.0 190.7,343.2 195.6,346.0 195.9,348.0 191.7,349.6 187.4,350.4 186.6,346.4 183.5,346.0ZM197.9,356.6 203.4,359.6 211.2,362.6 213.5,367.4 218.8,371.6 214.1,375.4 205.3,379.4 201.8,383.6 197.5,380.4 197.1,372.0 194.6,367.0 198.9,361.4Z" fill="#95d9ee"/>
<path d="M351.0,360.3 355.0,356.3 364.0,356.6 373.1,356.9 383.0,357.2 392.9,357.5 405.4,360.1 401.2,365.3 396.2,371.1 383.0,372.5 373.1,372.5 363.2,372.5 353.3,372.5 353.3,366.7ZM406.8,367.3 416.0,366.7 416.0,368.2 407.8,368.8Z" fill="#d0eef9"/>
</g>
<!-- DC inset -->
<g>
<rect x="646.1" y="120" width="44.7" height="42" fill="#0f76c0"/>
<path d="M661.3,121 L686.6,135 L670.9,160 L669,153 L667,147 L660,140 L655,135.5 L650.9,132.3 Z" fill="#0b0b68" stroke="#b9dcff" stroke-opacity="0.9" stroke-width="0.6" stroke-linejoin="round"/>
<path d="M646.3,127.6 L650.9,132.3" stroke="#b9dcff" stroke-opacity="0.9" stroke-width="0.6" fill="none"/>
</g>
<!-- title -->
<g font-size="17.8" font-weight="bold" fill="#111111" stroke="#111111" stroke-width="0.3">
<text x="212" y="23.3" textLength="74.2" lengthAdjust="spacingAndGlyphs">Average</text><text x="296" y="23.3" textLength="40.0" lengthAdjust="spacingAndGlyphs">Cost</text><text x="347.5" y="23.3" textLength="17.5" lengthAdjust="spacingAndGlyphs">of</text><text x="374.5" y="23.3" textLength="93.0" lengthAdjust="spacingAndGlyphs">Attending</text><text x="476.25" y="23.3" textLength="68.8" lengthAdjust="spacingAndGlyphs">College</text><text x="556.25" y="23.3" textLength="11.2" lengthAdjust="spacingAndGlyphs">in</text><text x="575" y="23.3" textLength="47.5" lengthAdjust="spacingAndGlyphs">Each</text><text x="630.5" y="23.3" textLength="25.0" lengthAdjust="spacingAndGlyphs">US</text><text x="663" y="23.3" textLength="49.0" lengthAdjust="spacingAndGlyphs">State</text>
</g>
<g font-size="12.2" fill="#4a4a4a">
<text x="272" y="41.3" textLength="38.0" lengthAdjust="spacingAndGlyphs">Based</text><text x="315.5" y="41.3" textLength="12.0" lengthAdjust="spacingAndGlyphs">on</text><text x="335" y="41.3" textLength="27.5" lengthAdjust="spacingAndGlyphs">2021</text><text x="370" y="41.3" textLength="33.8" lengthAdjust="spacingAndGlyphs">Costs</text><text x="410" y="41.3" textLength="56.2" lengthAdjust="spacingAndGlyphs">Reported</text><text x="471.25" y="41.3" textLength="13.8" lengthAdjust="spacingAndGlyphs">by</text><text x="491.25" y="41.3" textLength="23.8" lengthAdjust="spacingAndGlyphs">Title</text><text x="520" y="41.3" textLength="11.2" lengthAdjust="spacingAndGlyphs">IV</text><text x="537" y="41.3" textLength="99.2" lengthAdjust="spacingAndGlyphs">Post-Secondary</text><text x="643" y="41.3" textLength="67.5" lengthAdjust="spacingAndGlyphs">Institutions</text>
</g>
<text x="633.6" y="78.8" font-size="9.2" fill="#505050" textLength="75.3" lengthAdjust="spacingAndGlyphs">Map Created By</text>
<text x="620.7" y="94" font-size="11" font-weight="bold" fill="#111111" stroke="#111111" stroke-width="0.25" textLength="89" lengthAdjust="spacingAndGlyphs">Malcolm Tunnell</text>
<!-- legend -->
<g font-size="7.6" font-weight="bold" fill="#1a1a1a">
<text x="605.9" y="186.6" textLength="99.4" lengthAdjust="spacingAndGlyphs">Average Cost of In-State</text>
<text x="603.2" y="197.5" textLength="104.8" lengthAdjust="spacingAndGlyphs">College Attendance (USD)</text>
</g>
<g font-size="7.4" fill="#1a1a1a" stroke="#1a1a1a" stroke-width="0.15" text-anchor="middle">
<rect x="603" y="202.30" width="14" height="6.3" fill="#d0eef9"/><text x="665" y="208.20">Under $25k</text>
<rect x="603" y="214.55" width="14" height="6.3" fill="#95d9ee"/><text x="665" y="220.45">$25k - $30k</text>
<rect x="603" y="226.80" width="14" height="6.3" fill="#16a7d4"/><text x="665" y="232.70">$30k - $35k</text>
<rect x="603" y="239.05" width="14" height="6.3" fill="#0f76c0"/><text x="665" y="244.95">$35k - $40k</text>
<rect x="603" y="251.30" width="14" height="6.3" fill="#0b0b68"/><text x="665" y="257.20">$40k - $45k</text>
<rect x="603" y="263.55" width="14" height="6.3" fill="#040416"/><text x="665" y="269.45">Over $45k</text>
</g>
<!-- paragraph -->
<g font-size="5.3" fill="#2a2a2a" text-anchor="end" transform="translate(709,0) scale(1.09,1) translate(-709,0)">
<text x="709" y="287.8">The data are depicted using In-State costs since most students in the</text>
<text x="709" y="295.1">United States attend college in their home state. The US Department</text>
<text x="709" y="302.4">of Education lists the costs of attending college as tuition and</text>
<text x="709" y="309.7">associated fees, room and board, ground transportation, and books</text>
<text x="709" y="317.0">and other school supplies. This map averages the cost of living on or</text>
<text x="709" y="324.3">off campus. A Title IV post-secondary institution is a college or</text>
<text x="709" y="331.6">university that participates in the federal student aid program. These</text>
<text x="709" y="338.9">institutions are highly regulated by the US Department of Education</text>
<text x="709" y="346.2">and are required to report their costs annually. This map is only</text>
<text x="709" y="353.5">based on baccalaureate (bachelor's degree) or baccalaureate-</text>
<text x="709" y="360.8">equivalent institutions.</text>
<text x="709" y="381.4">Sources: US Department of Education,  Institute of Education</text>
<text x="709" y="389.1">Sciences, The National Center for Education Statistics (NCES)</text>
</g>
<g font-size="5.5" fill="#222222" text-anchor="middle" transform="translate(120.3,0) scale(1.14,1) translate(-120.3,0)">
<text x="120.3" y="382.3">Alaska, Hawaii, Puerto Rico and the US Virgin Islands</text>
<text x="119.5" y="389.6">are not depicted to scale.</text>
</g>
<path d="M179,365.6 L205,372" stroke="#555" stroke-width="0.5" stroke-dasharray="1.5,1.5" fill="none"/>
<g fill="none" stroke-width="0.7" stroke-dasharray="0.7,2" stroke-linecap="round">
<path d="M554.5,73 L558.8,87 L561,93" stroke="#2a7ac8"/><path d="M561.8,95 L565.5,101" stroke="#dfe8ff"/>
<path d="M543.5,91.5 L546.5,94.5" stroke="#2a7ac8"/><path d="M548,96 L552,99.5" stroke="#ffffff"/>
<path d="M590,119.5 L584,124.5" stroke="#2a7ac8"/><path d="M582,126 L577,130" stroke="#ffffff"/>
<path d="M597,136.3 L586,137.5" stroke="#2a7ac8"/>
<path d="M578,153 L573,147" stroke="#2a7ac8"/><path d="M571.5,145.5 L567,141" stroke="#ffffff"/>
<path d="M563.5,174 L558,172" stroke="#2a7ac8"/><path d="M556,171.5 L551,170" stroke="#ffffff"/>
<path d="M556,191 L548,187" stroke="#2a7ac8"/>
<path d="M555,208 L545,196" stroke="#2a7ac8"/>
</g>
<!-- labels -->
<g font-size="6" font-weight="bold" text-anchor="middle">
<g fill="#43525d" stroke="#ffffff" stroke-width="1.5" stroke-opacity="0.8" paint-order="stroke" stroke-linejoin="round"><text transform="translate(80,56.63) scale(1,1.2)" >In: $26.7k</text><text transform="translate(80,64.13) scale(1,1.2)" >Out: $40.5k</text></g>
<g fill="#43525d" stroke="#43525d" stroke-width="0.18"><text transform="translate(80,56.63) scale(1,1.2)" >In: $26.7k</text><text transform="translate(80,64.13) scale(1,1.2)" >Out: $40.5k</text></g>
<g fill="#ffffff" fill-opacity="0.74"><text transform="translate(66.5,104.33) scale(1,1.2)" >In: $41.6k</text><text transform="translate(66.5,111.83) scale(1,1.2)" >Out: $47.8k</text></g>
<g fill="#ffffff" fill-opacity="0.74"><text transform="translate(51.3,212.93) scale(1,1.2)" >In: $39.1k</text><text transform="translate(51.3,220.43) scale(1,1.2)" >Out: $43.2k</text></g>
<g fill="#43525d" stroke="#ffffff" stroke-width="1.5" stroke-opacity="0.8" paint-order="stroke" stroke-linejoin="round"><text transform="translate(122.5,121.43) scale(1,1.2)" >In: $25.9k</text><text transform="translate(122.5,128.93) scale(1,1.2)" >Out: $36.2k</text></g>
<g fill="#43525d" stroke="#43525d" stroke-width="0.18"><text transform="translate(122.5,121.43) scale(1,1.2)" >In: $25.9k</text><text transform="translate(122.5,128.93) scale(1,1.2)" >Out: $36.2k</text></g>
<g fill="#43525d" stroke="#ffffff" stroke-width="1.5" stroke-opacity="0.8" paint-order="stroke" stroke-linejoin="round"><text transform="translate(90.4,178.73) scale(1,1.2)" >In: $24.3k</text><text transform="translate(90.4,186.23) scale(1,1.2)" >Out: $37.8k</text></g>
<g fill="#43525d" stroke="#43525d" stroke-width="0.18"><text transform="translate(90.4,178.73) scale(1,1.2)" >In: $24.3k</text><text transform="translate(90.4,186.23) scale(1,1.2)" >Out: $37.8k</text></g>
<g fill="#43525d" stroke="#ffffff" stroke-width="1.5" stroke-opacity="0.8" paint-order="stroke" stroke-linejoin="round"><text transform="translate(182.3,82.43) scale(1,1.2)" >In: $26.4k</text><text transform="translate(182.3,89.93) scale(1,1.2)" >Out: $39.4k</text></g>
<g fill="#43525d" stroke="#43525d" stroke-width="0.18"><text transform="translate(182.3,82.43) scale(1,1.2)" >In: $26.4k</text><text transform="translate(182.3,89.93) scale(1,1.2)" >Out: $39.4k</text></g>
<g fill="#43525d" stroke="#ffffff" stroke-width="1.5" stroke-opacity="0.8" paint-order="stroke" stroke-linejoin="round"><text transform="translate(196,142.63) scale(1,1.2)" >In: $21.9k</text><text transform="translate(196,150.13) scale(1,1.2)" >Out: $33.3k</text></g>
<g fill="#43525d" stroke="#43525d" stroke-width="0.18"><text transform="translate(196,142.63) scale(1,1.2)" >In: $21.9k</text><text transform="translate(196,150.13) scale(1,1.2)" >Out: $33.3k</text></g>
<g fill="#43525d" stroke="#ffffff" stroke-width="1.5" stroke-opacity="0.8" paint-order="stroke" stroke-linejoin="round"><text transform="translate(145.5,189.13) scale(1,1.2)" >In: $24.2k</text><text transform="translate(145.5,196.63) scale(1,1.2)" >Out: $35.7k</text></g>
<g fill="#43525d" stroke="#43525d" stroke-width="0.18"><text transform="translate(145.5,189.13) scale(1,1.2)" >In: $24.2k</text><text transform="translate(145.5,196.63) scale(1,1.2)" >Out: $35.7k</text></g>
<g fill="#43525d" stroke="#ffffff" stroke-width="1.5" stroke-opacity="0.8" paint-order="stroke" stroke-linejoin="round"><text transform="translate(211.2,202.13) scale(1,1.2)" >In: $29.4k</text><text transform="translate(211.2,209.63) scale(1,1.2)" >Out: $39.9k</text></g>
<g fill="#43525d" stroke="#43525d" stroke-width="0.18"><text transform="translate(211.2,202.13) scale(1,1.2)" >In: $29.4k</text><text transform="translate(211.2,209.63) scale(1,1.2)" >Out: $39.9k</text></g>
<g fill="#43525d" stroke="#ffffff" stroke-width="1.5" stroke-opacity="0.8" paint-order="stroke" stroke-linejoin="round"><text transform="translate(132.3,261.13) scale(1,1.2)" >In: $28k</text><text transform="translate(132.3,268.63) scale(1,1.2)" >Out: $37.4k</text></g>
<g fill="#43525d" stroke="#43525d" stroke-width="0.18"><text transform="translate(132.3,261.13) scale(1,1.2)" >In: $28k</text><text transform="translate(132.3,268.63) scale(1,1.2)" >Out: $37.4k</text></g>
<g fill="#43525d" stroke="#ffffff" stroke-width="1.5" stroke-opacity="0.8" paint-order="stroke" stroke-linejoin="round"><text transform="translate(197.5,267.83) scale(1,1.2)" >In: $23.2k</text><text transform="translate(197.5,275.33) scale(1,1.2)" >Out: $32.8k</text></g>
<g fill="#43525d" stroke="#43525d" stroke-width="0.18"><text transform="translate(197.5,267.83) scale(1,1.2)" >In: $23.2k</text><text transform="translate(197.5,275.33) scale(1,1.2)" >Out: $32.8k</text></g>
<g fill="#43525d" stroke="#ffffff" stroke-width="1.5" stroke-opacity="0.8" paint-order="stroke" stroke-linejoin="round"><text transform="translate(272.5,85.13) scale(1,1.2)" >In: $23.9k</text><text transform="translate(272.5,92.63) scale(1,1.2)" >Out: $27.6k</text></g>
<g fill="#43525d" stroke="#43525d" stroke-width="0.18"><text transform="translate(272.5,85.13) scale(1,1.2)" >In: $23.9k</text><text transform="translate(272.5,92.63) scale(1,1.2)" >Out: $27.6k</text></g>
<g fill="#43525d" stroke="#ffffff" stroke-width="1.5" stroke-opacity="0.8" paint-order="stroke" stroke-linejoin="round"><text transform="translate(273.7,128.73) scale(1,1.2)" >In: $25.9k</text><text transform="translate(273.7,136.23) scale(1,1.2)" >Out: $28.2k</text></g>
<g fill="#43525d" stroke="#43525d" stroke-width="0.18"><text transform="translate(273.7,128.73) scale(1,1.2)" >In: $25.9k</text><text transform="translate(273.7,136.23) scale(1,1.2)" >Out: $28.2k</text></g>
<g fill="#ffffff" fill-opacity="0.74"><text transform="translate(276.2,170.63) scale(1,1.2)" >In: $34.1k</text><text transform="translate(276.2,178.13) scale(1,1.2)" >Out: $36.1k</text></g>
<g fill="#ffffff" fill-opacity="0.74"><text transform="translate(290,213.63) scale(1,1.2)" >In: $35.5k</text><text transform="translate(290,221.13) scale(1,1.2)" >Out: $38.2k</text></g>
<g fill="#43525d" stroke="#ffffff" stroke-width="1.5" stroke-opacity="0.8" paint-order="stroke" stroke-linejoin="round"><text transform="translate(300,256.13) scale(1,1.2)" >In: $27.3k</text><text transform="translate(300,263.63) scale(1,1.2)" >Out: $34.6k</text></g>
<g fill="#43525d" stroke="#43525d" stroke-width="0.18"><text transform="translate(300,256.13) scale(1,1.2)" >In: $27.3k</text><text transform="translate(300,263.63) scale(1,1.2)" >Out: $34.6k</text></g>
<g fill="#ffffff" fill-opacity="0.74"><text transform="translate(277.5,315.63) scale(1,1.2)" >In: $32.2k</text><text transform="translate(277.5,323.13) scale(1,1.2)" >Out: $34.4k</text></g>
<g fill="#ffffff" fill-opacity="0.74"><text transform="translate(334,95.43) scale(1,1.2)" >In: $38k</text><text transform="translate(334,102.93) scale(1,1.2)" >Out: $39.3k</text></g>
<g fill="#ffffff" fill-opacity="0.74"><text transform="translate(343.3,163.83) scale(1,1.2)" >In: $42.9k</text><text transform="translate(343.3,171.33) scale(1,1.2)" >Out: $44.3k</text></g>
<g fill="#ffffff" fill-opacity="0.74"><text transform="translate(356.3,216.83) scale(1,1.2)" >In: $32.9k</text><text transform="translate(356.3,224.33) scale(1,1.2)" >Out: $35.9k</text></g>
<g fill="#43525d" stroke="#ffffff" stroke-width="1.5" stroke-opacity="0.8" paint-order="stroke" stroke-linejoin="round"><text transform="translate(356,266.13) scale(1,1.2)" >In: $27.1k</text><text transform="translate(356,273.63) scale(1,1.2)" >Out: $31.3k</text></g>
<g fill="#43525d" stroke="#43525d" stroke-width="0.18"><text transform="translate(356,266.13) scale(1,1.2)" >In: $27.1k</text><text transform="translate(356,273.63) scale(1,1.2)" >Out: $31.3k</text></g>
<g fill="#ffffff" fill-opacity="0.74"><text transform="translate(358.2,304.33) scale(1,1.2)" >In: $31.9k</text><text transform="translate(358.2,311.83) scale(1,1.2)" >Out: $34.3k</text></g>
<g fill="#ffffff" fill-opacity="0.74"><text transform="translate(378,124.13) scale(1,1.2)" >In: $34.3k</text><text transform="translate(378,131.63) scale(1,1.2)" >Out: $37.1k</text></g>
<g fill="#ffffff" fill-opacity="0.74"><text transform="translate(386.5,188.63) scale(1,1.2)" >In: $42.6k</text><text transform="translate(386.5,196.13) scale(1,1.2)" >Out: $43.7k</text></g>
<g fill="#ffffff" fill-opacity="0.74"><text transform="translate(423.5,184.53) scale(1,1.2)" >In: $36.9k</text><text transform="translate(423.5,192.03) scale(1,1.2)" >Out: $40.8k</text></g>
<g fill="#ffffff" fill-opacity="0.74"><text transform="translate(459,179.43) scale(1,1.2)" >In: $32.4k</text><text transform="translate(459,186.93) scale(1,1.2)" >Out: $34.9k</text></g>
<g fill="#ffffff" fill-opacity="0.74"><text transform="translate(436,135.63) scale(1,1.2)" >In: $35.9k</text><text transform="translate(436,143.13) scale(1,1.2)" >Out: $39.1k</text></g>
<g fill="#ffffff" fill-opacity="0.74"><text transform="translate(436.5,222.13) scale(1,1.2)" >In: $36.6k</text><text transform="translate(436.5,229.63) scale(1,1.2)" >Out: $39.2k</text></g>
<g fill="#ffffff" fill-opacity="0.74"><text transform="translate(427.5,247.13) scale(1,1.2)" >In: $35.2k</text><text transform="translate(427.5,254.63) scale(1,1.2)" >Out: $37k</text></g>
<g fill="#43525d" stroke="#ffffff" stroke-width="1.5" stroke-opacity="0.8" paint-order="stroke" stroke-linejoin="round"><text transform="translate(392,282.13) scale(1,1.2)" >In: $26.4k</text><text transform="translate(392,289.63) scale(1,1.2)" >Out: $34.2k</text></g>
<g fill="#43525d" stroke="#43525d" stroke-width="0.18"><text transform="translate(392,282.13) scale(1,1.2)" >In: $26.4k</text><text transform="translate(392,289.63) scale(1,1.2)" >Out: $34.2k</text></g>
<g fill="#43525d" stroke="#ffffff" stroke-width="1.5" stroke-opacity="0.8" paint-order="stroke" stroke-linejoin="round"><text transform="translate(425.8,291.83) scale(1,1.2)" >In: $28.2k</text><text transform="translate(425.8,299.33) scale(1,1.2)" >Out: $36.4k</text></g>
<g fill="#43525d" stroke="#43525d" stroke-width="0.18"><text transform="translate(425.8,291.83) scale(1,1.2)" >In: $28.2k</text><text transform="translate(425.8,299.33) scale(1,1.2)" >Out: $36.4k</text></g>
<g fill="#ffffff" fill-opacity="0.74"><text transform="translate(468.5,290.13) scale(1,1.2)" >In: $30.9k</text><text transform="translate(468.5,297.63) scale(1,1.2)" >Out: $33.5k</text></g>
<g fill="#43525d" stroke="#ffffff" stroke-width="1.5" stroke-opacity="0.8" paint-order="stroke" stroke-linejoin="round"><text transform="translate(501,353.33) scale(1,1.2)" >In: $27.6k</text><text transform="translate(501,360.83) scale(1,1.2)" >Out: $33k</text></g>
<g fill="#43525d" stroke="#43525d" stroke-width="0.18"><text transform="translate(501,353.33) scale(1,1.2)" >In: $27.6k</text><text transform="translate(501,360.83) scale(1,1.2)" >Out: $33k</text></g>
<g fill="#ffffff" fill-opacity="0.74"><text transform="translate(498,265.63) scale(1,1.2)" >In: $33.9k</text><text transform="translate(498,273.13) scale(1,1.2)" >Out: $38.3k</text></g>
<g fill="#ffffff" fill-opacity="0.74"><text transform="translate(508.5,241.33) scale(1,1.2)" >In: $36.1k</text><text transform="translate(508.5,248.83) scale(1,1.2)" >Out: $39.3k</text></g>
<g fill="#ffffff" fill-opacity="0.74"><text transform="translate(516.5,212.53) scale(1,1.2)" >In: $38k</text><text transform="translate(516.5,220.03) scale(1,1.2)" >Out: $40.8k</text></g>
<g fill="#43525d" stroke="#ffffff" stroke-width="1.5" stroke-opacity="0.8" paint-order="stroke" stroke-linejoin="round"><text transform="translate(481.3,200.13) scale(1,1.2)" >In: $24.2k</text><text transform="translate(481.3,207.63) scale(1,1.2)" >Out: $31.7k</text></g>
<g fill="#43525d" stroke="#43525d" stroke-width="0.18"><text transform="translate(481.3,200.13) scale(1,1.2)" >In: $24.2k</text><text transform="translate(481.3,207.63) scale(1,1.2)" >Out: $31.7k</text></g>
<g fill="#ffffff" fill-opacity="0.74"><text transform="translate(510,162.13) scale(1,1.2)" >In: $47.8k</text><text transform="translate(510,169.63) scale(1,1.2)" >Out: $49.6k</text></g>
<g fill="#ffffff" fill-opacity="0.74"><text transform="translate(532,129.63) scale(1,1.2)" >In: $39.3k</text><text transform="translate(532,137.13) scale(1,1.2)" >Out: $41.3k</text></g>
<g fill="#ffffff" fill-opacity="0.74"><text transform="translate(585,79.03) scale(1,1.2)" >In: $39.7k</text><text transform="translate(585,86.53) scale(1,1.2)" >Out: $44.1k</text></g>
<g fill="#43525d" stroke="#ffffff" stroke-width="1.5" stroke-opacity="0.8" paint-order="stroke" stroke-linejoin="round"><text transform="translate(537.5,66.63) scale(1,1.2)" >In: $40.6k</text><text transform="translate(537.5,74.13) scale(1,1.2)" >Out: $46.2k</text></g>
<g fill="#43525d" stroke="#43525d" stroke-width="0.18"><text transform="translate(537.5,66.63) scale(1,1.2)" >In: $40.6k</text><text transform="translate(537.5,74.13) scale(1,1.2)" >Out: $46.2k</text></g>
<g fill="#43525d" stroke="#ffffff" stroke-width="1.5" stroke-opacity="0.8" paint-order="stroke" stroke-linejoin="round"><text transform="translate(528.4,86.43) scale(1,1.2)" >In: $48.2k</text><text transform="translate(528.4,93.93) scale(1,1.2)" >Out: $48.7k</text></g>
<g fill="#43525d" stroke="#43525d" stroke-width="0.18"><text transform="translate(528.4,86.43) scale(1,1.2)" >In: $48.2k</text><text transform="translate(528.4,93.93) scale(1,1.2)" >Out: $48.7k</text></g>
<g fill="#43525d" stroke="#ffffff" stroke-width="1.5" stroke-opacity="0.8" paint-order="stroke" stroke-linejoin="round"><text transform="translate(604,112.83) scale(1,1.2)" >In: $48.1k</text><text transform="translate(604,120.33) scale(1,1.2)" >Out: $50.2k</text></g>
<g fill="#43525d" stroke="#43525d" stroke-width="0.18"><text transform="translate(604,112.83) scale(1,1.2)" >In: $48.1k</text><text transform="translate(604,120.33) scale(1,1.2)" >Out: $50.2k</text></g>
<g fill="#43525d" stroke="#ffffff" stroke-width="1.5" stroke-opacity="0.8" paint-order="stroke" stroke-linejoin="round"><text transform="translate(613,133.63) scale(1,1.2)" >In: $48k</text><text transform="translate(613,141.13) scale(1,1.2)" >Out: $48.9k</text></g>
<g fill="#43525d" stroke="#43525d" stroke-width="0.18"><text transform="translate(613,133.63) scale(1,1.2)" >In: $48k</text><text transform="translate(613,141.13) scale(1,1.2)" >Out: $48.9k</text></g>
<g fill="#43525d" stroke="#ffffff" stroke-width="1.5" stroke-opacity="0.8" paint-order="stroke" stroke-linejoin="round"><text transform="translate(590.5,154.83) scale(1,1.2)" >In: $47.2k</text><text transform="translate(590.5,162.33) scale(1,1.2)" >Out: $53.4k</text></g>
<g fill="#43525d" stroke="#43525d" stroke-width="0.18"><text transform="translate(590.5,154.83) scale(1,1.2)" >In: $47.2k</text><text transform="translate(590.5,162.33) scale(1,1.2)" >Out: $53.4k</text></g>
<g fill="#43525d" stroke="#ffffff" stroke-width="1.5" stroke-opacity="0.8" paint-order="stroke" stroke-linejoin="round"><text transform="translate(577,173.83) scale(1,1.2)" >In: $30.7k</text><text transform="translate(577,181.33) scale(1,1.2)" >Out: $34k</text></g>
<g fill="#43525d" stroke="#43525d" stroke-width="0.18"><text transform="translate(577,173.83) scale(1,1.2)" >In: $30.7k</text><text transform="translate(577,181.33) scale(1,1.2)" >Out: $34k</text></g>
<g fill="#43525d" stroke="#ffffff" stroke-width="1.5" stroke-opacity="0.8" paint-order="stroke" stroke-linejoin="round"><text transform="translate(569,191.13) scale(1,1.2)" >In: $35.3k</text><text transform="translate(569,198.63) scale(1,1.2)" >Out: $39k</text></g>
<g fill="#43525d" stroke="#43525d" stroke-width="0.18"><text transform="translate(569,191.13) scale(1,1.2)" >In: $35.3k</text><text transform="translate(569,198.63) scale(1,1.2)" >Out: $39k</text></g>
<g fill="#43525d" stroke="#ffffff" stroke-width="1.5" stroke-opacity="0.8" paint-order="stroke" stroke-linejoin="round"><text transform="translate(568.8,209.43) scale(1,1.2)" >In: $35.6k</text><text transform="translate(568.8,216.93) scale(1,1.2)" >Out: $41.5k</text></g>
<g fill="#43525d" stroke="#43525d" stroke-width="0.18"><text transform="translate(568.8,209.43) scale(1,1.2)" >In: $35.6k</text><text transform="translate(568.8,216.93) scale(1,1.2)" >Out: $41.5k</text></g>
<g fill="#43525d" stroke="#ffffff" stroke-width="1.5" stroke-opacity="0.8" paint-order="stroke" stroke-linejoin="round"><text transform="translate(67.5,325.13) scale(1,1.2)" >In: $25.4k</text><text transform="translate(67.5,332.63) scale(1,1.2)" >Out: $34.7k</text></g>
<g fill="#43525d" stroke="#43525d" stroke-width="0.18"><text transform="translate(67.5,325.13) scale(1,1.2)" >In: $25.4k</text><text transform="translate(67.5,332.63) scale(1,1.2)" >Out: $34.7k</text></g>
<g fill="#43525d" stroke="#ffffff" stroke-width="1.5" stroke-opacity="0.8" paint-order="stroke" stroke-linejoin="round"><text transform="translate(163,357.63) scale(1,1.2)" >In: $26.9k</text><text transform="translate(163,365.13) scale(1,1.2)" >Out: $40.1k</text></g>
<g fill="#43525d" stroke="#43525d" stroke-width="0.18"><text transform="translate(163,357.63) scale(1,1.2)" >In: $26.9k</text><text transform="translate(163,365.13) scale(1,1.2)" >Out: $40.1k</text></g>
<g fill="#43525d" stroke="#ffffff" stroke-width="1.5" stroke-opacity="0.8" paint-order="stroke" stroke-linejoin="round"><text transform="translate(375,364.13) scale(1,1.2)" >In: $14.2k</text><text transform="translate(375,371.63) scale(1,1.2)" >Out: $15k</text></g>
<g fill="#43525d" stroke="#43525d" stroke-width="0.18"><text transform="translate(375,364.13) scale(1,1.2)" >In: $14.2k</text><text transform="translate(375,371.63) scale(1,1.2)" >Out: $15k</text></g>
<g fill="#43525d" stroke="#ffffff" stroke-width="1.5" stroke-opacity="0.8" paint-order="stroke" stroke-linejoin="round"><text transform="translate(449,372.63) scale(1,1.2)" >In: $20.1k</text><text transform="translate(449,380.13) scale(1,1.2)" >Out: $26.4k</text></g>
<g fill="#43525d" stroke="#43525d" stroke-width="0.18"><text transform="translate(449,372.63) scale(1,1.2)" >In: $20.1k</text><text transform="translate(449,380.13) scale(1,1.2)" >Out: $26.4k</text></g>
<g fill="#ffffff" fill-opacity="0.74"><text transform="translate(673,131.73) scale(1,1.2)" >In: $42.2k</text><text transform="translate(673,139.23) scale(1,1.2)" >Out: $44.9k</text></g>
</g>
</svg>
</body></html>
